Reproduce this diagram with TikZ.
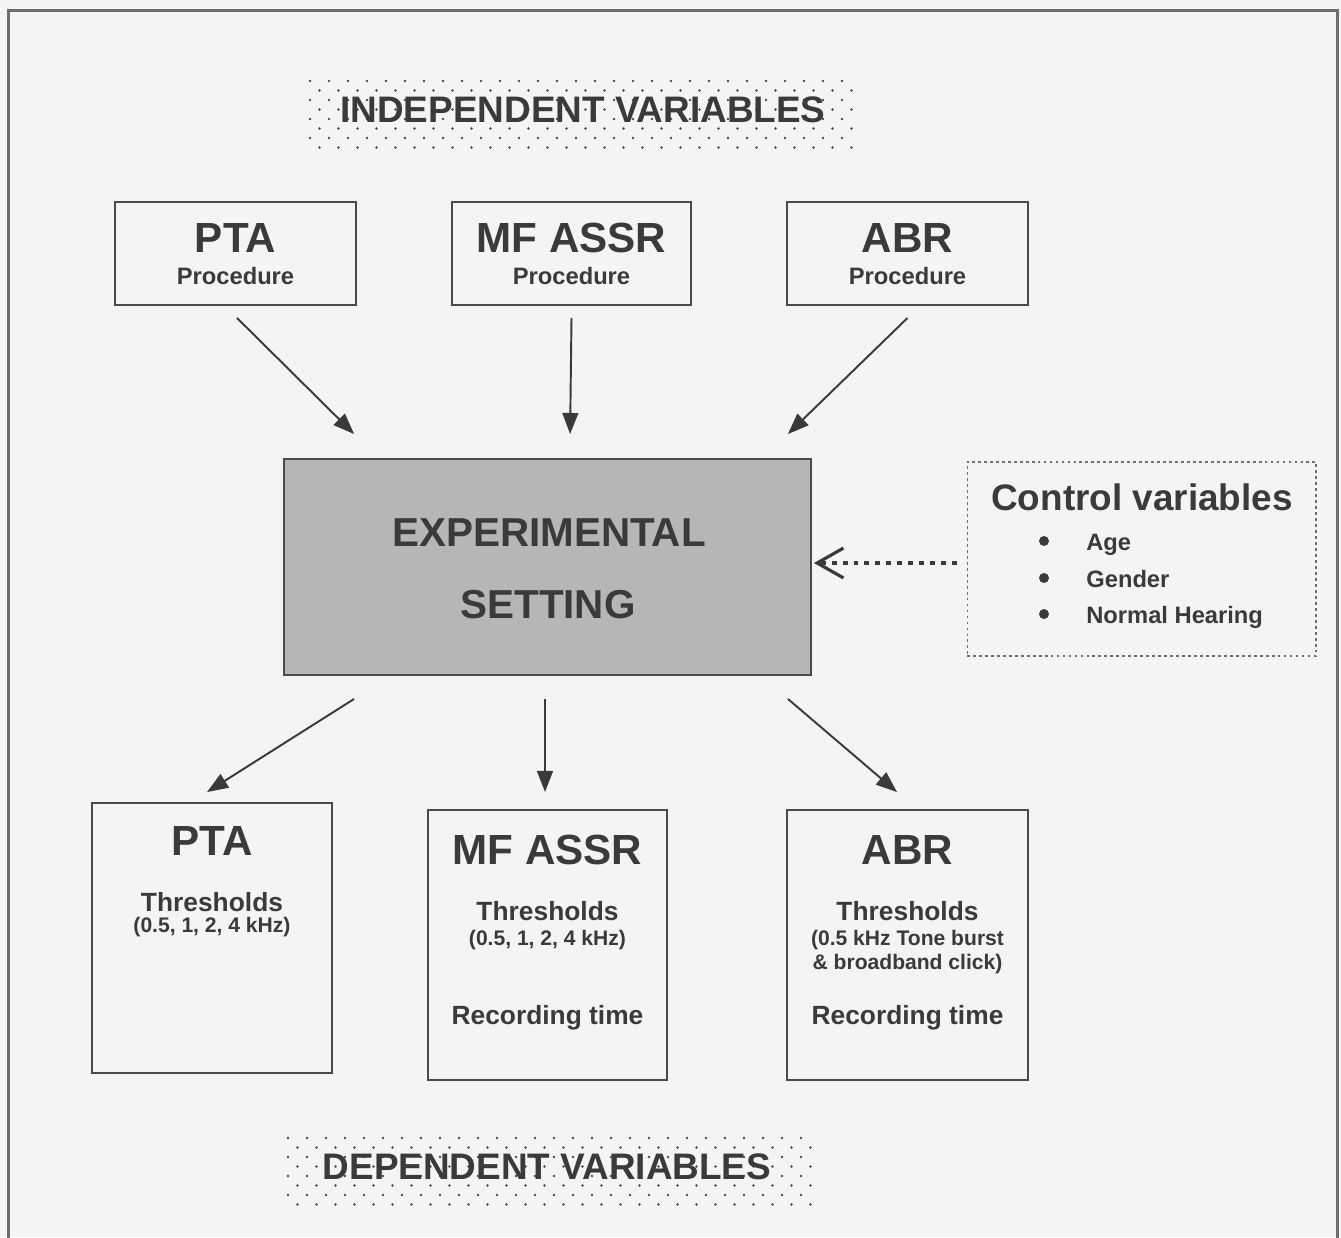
\documentclass[tikz,border=0pt]{standalone}
\usepackage{fontspec}
\setmainfont{Liberation Sans}
\usetikzlibrary{arrows.meta}

\begin{document}
\begin{tikzpicture}[x=0.02cm,y=-0.02cm,>=Latex]

% colors
\definecolor{cPage}{HTML}{F4F4F2}
\definecolor{cInk}{HTML}{3A3A3A}
\definecolor{cLine}{HTML}{4A4A4A}
\definecolor{cFrame}{HTML}{6E6E6E}
\definecolor{cCore}{HTML}{B6B6B6}
\definecolor{cDot}{HTML}{4A4A4A}

% styles
\tikzset{
  box/.style={draw=cLine,line width=1.1pt,fill=cPage,inner sep=0pt},
  arr/.style={draw=cInk,line width=1.1pt,-{Triangle[length=12pt,width=9pt]}},
  head/.style={text=cInk,inner sep=0pt,font=\bfseries\fontsize{24}{28}\selectfont,anchor=base},
  sub/.style={text=cInk,inner sep=0pt,font=\bfseries\fontsize{15}{18}\selectfont,anchor=base},
  small/.style={text=cInk,inner sep=0pt,font=\bfseries\fontsize{12}{14}\selectfont,anchor=base},
  banner/.style={text=cInk,inner sep=0pt,font=\bfseries\fontsize{21}{25}\selectfont,anchor=base},
}

% page and frame
\useasboundingbox (0,0) rectangle (1341,1237);
\fill[cPage] (0,0) rectangle (1341,1237);
\draw[cFrame,line width=1.2pt] (8.5,1260) -- (8.5,10.5) -- (1337.5,10.5) -- (1337.5,1260);

% stippled title patches
\foreach \x/\y/\n in {305/78/28, 283/1135/27}{
  \foreach \i in {0,...,\n}{
    \foreach \j in {0,...,7}{
      \fill[cDot] ({\x+5+\i*19+mod(\j,2)*9.5},{\y+3+\j*9.5}) circle[radius=0.028cm];
    }
  }
}
\node[banner] (indep) at (583,122) {INDEPENDENT VARIABLES};
\node[banner] (dep) at (547,1179) {DEPENDENT VARIABLES};

% procedure boxes (top row)
\node[box,minimum width=4.82cm,minimum height=2.06cm] (ptaP) at (235.5,253.5) {};
\node[box,minimum width=4.78cm,minimum height=2.06cm] (mfP) at (571.5,253.5) {};
\node[box,minimum width=4.82cm,minimum height=2.06cm] (abrP) at (907.5,253.5) {};
\node[head] (ptaPt) at (235.5,252) {PTA};
\node[head] (mfPt) at (571.5,252) {MF ASSR};
\node[head] (abrPt) at (907.5,252) {ABR};
\node[small,font=\bfseries\fontsize{13.5}{16}\selectfont] (ptaPs) at (235.5,284) {Procedure};
\node[small,font=\bfseries\fontsize{13.5}{16}\selectfont] (mfPs) at (571.5,284) {Procedure};
\node[small,font=\bfseries\fontsize{13.5}{16}\selectfont] (abrPs) at (907.5,284) {Procedure};

% experimental setting
\node[box,fill=cCore,minimum width=10.54cm,minimum height=4.32cm] (exp) at (547.5,567) {};
\node[head,font=\bfseries\fontsize{23}{28}\selectfont] (expA) at (549,546) {EXPERIMENTAL};
\node[head,font=\bfseries\fontsize{23}{28}\selectfont] (expB) at (548,618) {SETTING};

% control variables
\node[draw=cFrame,line width=0.6pt,dash pattern=on 1.6pt off 1.8pt,inner sep=0pt,
  minimum width=6.98cm,minimum height=3.88cm] (ctrl) at (1141.5,559) {};
\node[banner] (ctrlT) at (1142,510) {Control variables};
\foreach \t/\yy [count=\k] in {Age/550, Gender/587, Normal Hearing/623}{
  \fill[cInk] (1044,{\yy-9}) circle[radius=0.1cm];
  \node[small,font=\bfseries\fontsize{13.5}{16}\selectfont,anchor=base west] (item\k) at (1086,\yy) {\t};
}

% result boxes (bottom row)
\node[box,minimum width=4.80cm,minimum height=5.40cm] (ptaR) at (212,938) {};
\node[box,minimum width=4.78cm,minimum height=5.40cm] (mfR) at (547.5,945) {};
\node[box,minimum width=4.82cm,minimum height=5.40cm] (abrR) at (907.5,945) {};

\node[head] (ptaRt) at (212,855) {PTA};
\node[sub] (ptaRa) at (212,911) {Thresholds};
\node[small] (ptaRb) at (212,932) {(0.5, 1, 2, 4 kHz)};

\node[head] (mfRt) at (547.5,864) {MF ASSR};
\node[sub] (mfRa) at (547.5,920) {Thresholds};
\node[small] (mfRb) at (547.5,945) {(0.5, 1, 2, 4 kHz)};
\node[sub] (mfRc) at (547.5,1024) {Recording time};

\node[head] (abrRt) at (907.5,864) {ABR};
\node[sub] (abrRa) at (907.5,920) {Thresholds};
\node[small] (abrRb) at (907.5,945) {(0.5 kHz Tone burst};
\node[small] (abrRc) at (907.5,969) {\& broadband click)};
\node[sub] (abrRd) at (907.5,1024) {Recording time};

% arrows in
\draw[arr] ([shift={(1.5,12)}]ptaP.south) -- ([shift={(71,-24)}]exp.north west);
\draw[arr] ([shift={(0,12)}]mfP.south) -- ([shift={(287,-24)}]exp.north west);
\draw[arr] ([shift={(0,12)}]abrP.south) -- ([shift={(-24,-24)}]exp.north east);

% arrows out
\draw[arr] ([shift={(71,23)}]exp.south west) -- ([shift={(-5,-10)}]ptaR.north);
\draw[arr] ([shift={(-2.5,23)}]exp.south) -- ([shift={(-2.5,-17)}]mfR.north);
\draw[arr] ([shift={(-24,23)}]exp.south east) -- ([shift={(-10.5,-17)}]abrR.north);

% control link
\draw[cInk,line width=2.4pt,dash pattern=on 2.8pt off 3.4pt,
  -{Straight Barb[length=15pt,width=17pt,line width=1.8pt]}]
  ([shift={(-10,4)}]ctrl.west) -- ([shift={(2,-4)}]exp.east);

\end{tikzpicture}
\end{document}
